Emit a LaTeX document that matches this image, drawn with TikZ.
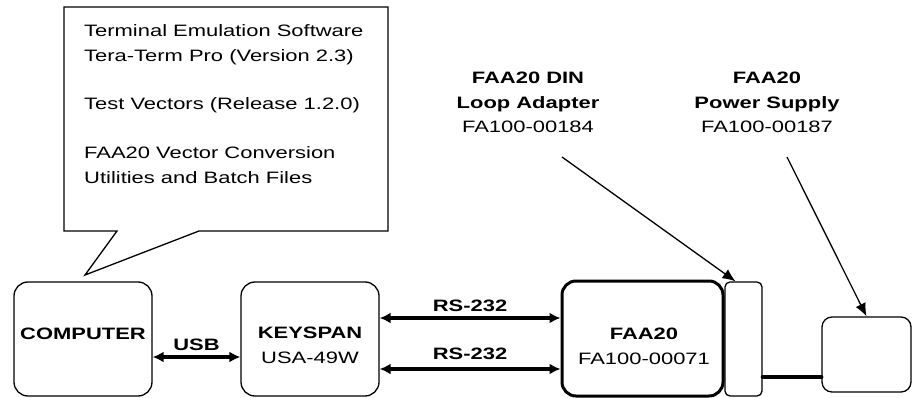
\documentclass[tikz,border=0pt]{standalone}
\usepackage{fontspec}
\setmainfont{Liberation Sans}[FakeStretch=1.33]
\usetikzlibrary{arrows.meta}
\usetikzlibrary{positioning}
\tikzset{unit/.style = {draw, line width = 1.3pt, rounded corners = 14pt, inner sep = 0}}
\tikzset{link/.style = {line width = 3.2pt, {Latex[length=11pt,width=11pt]}-{Latex[length=11pt,width=11pt]}}}
\tikzset{pointer/.style = {line width = 1.3pt, -{Latex[length=13pt,width=11pt]}}}
\tikzset{txt/.style = {font = \fontsize{16.5}{24.4}\selectfont, align = center, inner sep = 1pt}}

\begin{document}
\begin{tikzpicture}[x=1pt, y=-1pt]
          \useasboundingbox (0, 0) rectangle (913, 398);

          % software callout
          \draw[line width = 1.3pt] (64, 7) -- (388, 7) -- (388, 231) -- (199, 231)
            -- (85, 275) -- (117, 231) -- (64, 231) -- cycle;
          \node (software) [txt, align = left, anchor = north west] at (83, 23.5)
            {Terminal Emulation Software\\ Tera-Term Pro (Version 2.3)\\[24.4pt]
             Test Vectors (Release 1.2.0)\\[24.4pt]
             FAA20 Vector Conversion\\ Utilities and Batch Files};

          % boxes
          \node (computer) [unit, minimum width = 138, minimum height = 114] at (83, 339) {};
          \node (keyspan) [unit, minimum width = 138, minimum height = 114] at (310, 339) {};
          \node (faa) [unit, line width = 3pt, minimum width = 161, minimum height = 115] at (642.5, 338.5) {};
          \node (din) [unit, rounded corners = 5pt, minimum width = 37, minimum height = 114] at (743.5, 339) {};
          \node (power) [unit, rounded corners = 10pt, minimum width = 89, minimum height = 75] at (866.5, 354.5) {};

          \node (computer text) [txt] at (83, 334) {\bfseries COMPUTER};
          \node (keyspan text) [txt] at (310, 345.5) {\bfseries KEYSPAN\\ USA-49W};
          \node (faa text) [txt] at (644, 346.5) {\bfseries FAA20\\ FA100-00071};

          % cables
          \draw[link] ([yshift=-18pt]computer.east) -- ([yshift=-18pt]keyspan.west)
            node [txt, midway, above = 4pt] {\bfseries USB};
          \draw[link] ([yshift=21pt]keyspan.east) -- ([yshift=20.5pt]faa.west)
            node [txt, midway, above = 4pt] {\bfseries RS-232};
          \draw[link] ([yshift=-30pt]keyspan.east) -- ([yshift=-30.5pt]faa.west)
            node [txt, midway, above = 7pt] {\bfseries RS-232};

          \coordinate (plug) at ([yshift=-38pt]din.east);
          \draw[line width = 4pt, line cap = round] (plug) -- (plug -| power.west);

          % part labels
          \node (din label) [txt] at (528, 102.5) {\bfseries FAA20 DIN\\ \bfseries Loop Adapter\\ FA100-00184};
          \node (power label) [txt] at (767, 102.5) {\bfseries FAA20\\ \bfseries Power Supply\\ FA100-00187};

          \coordinate (din tail) at (562, 157);
          \coordinate (power tail) at (787, 157);
          \draw[pointer] (din tail) -- ([xshift=-8pt]din.north);
          \draw[pointer] (power tail) -- (power.north);
        \end{tikzpicture}
\end{document}
